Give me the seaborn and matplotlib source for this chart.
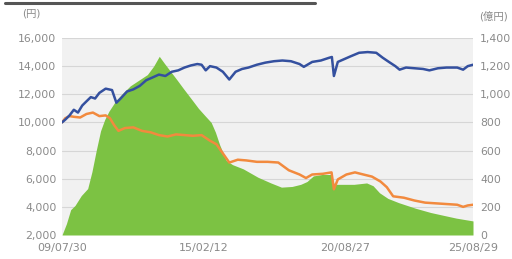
import matplotlib
matplotlib.use("Agg")
import matplotlib.pyplot as plt
import matplotlib.dates as mdates
from matplotlib.lines import Line2D
from matplotlib.ticker import FuncFormatter
import seaborn as sns
import pandas as pd

# ---- data ----
blue_dates = ["2009-07-30","2009-09-15","2009-11-15","2010-01-15","2010-03-15","2010-05-15","2010-07-15",
              "2010-09-15","2010-11-15","2011-01-15","2011-04-15","2011-07-15","2011-09-15","2011-11-15",
              "2012-02-15","2012-05-15","2012-08-15","2012-11-15","2013-02-15","2013-05-15","2013-08-15",
              "2013-11-15","2014-02-15","2014-05-15","2014-08-15","2014-11-15","2015-01-15","2015-03-15",
              "2015-05-15","2015-08-15","2015-11-15","2016-02-15","2016-05-15","2016-08-15","2016-11-15",
              "2017-03-15","2017-07-15","2017-11-15","2018-03-15","2018-07-15","2018-11-15","2019-01-15",
              "2019-05-15","2019-09-15","2020-01-15","2020-02-20","2020-03-20","2020-05-15","2020-08-15",
              "2020-11-15","2021-03-15","2021-07-15","2021-11-15","2022-02-15","2022-05-15","2022-08-15",
              "2022-10-15","2023-01-15","2023-05-15","2023-09-15","2023-12-15","2024-04-15","2024-08-15",
              "2025-01-15","2025-04-10","2025-06-15","2025-08-29"]
blue_values = [10000,10200,10500,10900,10700,11200,11500,
               11800,11700,12100,12400,12300,11400,11700,
               12200,12350,12600,13000,13200,13400,13300,
               13600,13700,13900,14050,14150,14100,13700,
               14000,13900,13600,13050,13600,13800,13900,
               14100,14250,14350,14400,14350,14150,13950,
               14300,14400,14600,14650,13300,14300,14500,
               14700,14950,15000,14950,14600,14300,14000,
               13750,13900,13850,13800,13700,13850,13900,
               13900,13750,14000,14100]

orange_dates = ["2009-07-30","2009-09-15","2009-11-15","2010-01-15","2010-04-15","2010-07-15","2010-10-15",
                "2011-01-15","2011-04-15","2011-06-15","2011-08-15","2011-10-15","2012-01-15","2012-05-15",
                "2012-09-15","2013-01-15","2013-05-15","2013-09-15","2014-01-15","2014-05-15","2014-09-15",
                "2015-01-15","2015-05-15","2015-08-15","2015-11-15","2016-02-15","2016-06-15","2016-10-15",
                "2017-03-15","2017-08-15","2018-01-15","2018-06-15","2018-11-15","2019-02-15","2019-05-15",
                "2019-10-15","2020-02-15","2020-03-20","2020-05-15","2020-09-15","2021-01-15","2021-05-15",
                "2021-09-15","2022-01-15","2022-04-15","2022-07-15","2022-12-15","2023-05-15","2023-10-15",
                "2024-03-15","2024-08-15","2025-01-15","2025-04-10","2025-06-15","2025-08-29"]
orange_values = [10000,10300,10450,10400,10350,10600,10700,
                 10450,10500,10300,9800,9400,9600,9650,
                 9400,9300,9100,9000,9150,9100,9050,
                 9100,8700,8450,7800,7150,7350,7300,
                 7200,7200,7150,6600,6300,6050,6300,
                 6350,6450,5250,5950,6300,6450,6300,
                 6150,5800,5400,4750,4650,4450,4300,
                 4250,4200,4150,4000,4100,4150]

green_dates = ["2009-07-30","2009-10-01","2009-12-01","2010-02-01","2010-05-01","2010-08-01","2010-10-01",
               "2010-12-01","2011-02-01","2011-04-01","2011-06-01","2011-09-01","2011-12-01","2012-04-01",
               "2012-08-01","2012-12-01","2013-03-01","2013-05-20","2013-08-01","2013-11-01","2014-02-01",
               "2014-05-01","2014-09-01","2014-12-01","2015-03-01","2015-06-01","2015-08-01","2015-10-01",
               "2016-01-01","2016-04-01","2016-09-01","2017-04-01","2017-10-01","2018-03-01","2018-08-01",
               "2018-12-01","2019-03-01","2019-06-01","2019-10-01","2020-02-01","2020-03-25","2020-07-01",
               "2021-01-01","2021-07-01","2021-10-01","2022-01-01","2022-05-01","2022-10-01","2023-06-01",
               "2024-01-01","2024-07-01","2025-01-01","2025-08-29"]
green_values = [0,80,180,210,280,330,450,
                600,740,820,880,950,1000,1060,
                1100,1140,1200,1270,1220,1160,1100,
                1040,960,900,850,800,730,640,
                530,500,470,410,370,340,345,
                360,380,420,430,430,360,360,
                360,370,350,300,260,230,190,
                160,140,120,100]

left_ticks = [2000, 4000, 6000, 8000, 10000, 12000, 14000, 16000]
right_ticks = [0, 200, 400, 600, 800, 1000, 1200, 1400]
x_tick_dates = ["2009-07-30", "2015-02-12", "2020-08-27", "2025-08-29"]

blue_df = pd.DataFrame({"date": pd.to_datetime(blue_dates), "value": blue_values})
orange_df = pd.DataFrame({"date": pd.to_datetime(orange_dates), "value": orange_values})
green_df = pd.DataFrame({"date": pd.to_datetime(green_dates), "value": green_values})

sns.set_style("white")
plt.rcParams["font.family"] = ["DejaVu Sans", "Noto Sans CJK JP"]

BLUE = "#34509f"
ORANGE = "#f28a3e"
GREEN = "#7cc243"
TICK = "#8a8a8a"

fig = plt.figure(figsize=(5.12, 2.59), dpi=100)
ax2 = fig.add_axes([62/512, 24/259, (473-62)/512, (235-38)/259])
ax = ax2.twinx()

# right-axis layer: net assets area + background + grid
ax2.set_facecolor("#f1f1f1")
ax2.fill_between(green_df["date"], 0, green_df["value"], color=GREEN, linewidth=0, zorder=2)
ax2.set_ylim(0, 1400)
ax2.set_yticks(right_ticks)
ax2.grid(axis="y", color="#d6d6d6", linewidth=0.8, zorder=0)
ax2.set_axisbelow(True)

# left-axis layer: lines on top
ax.set_zorder(ax2.get_zorder() + 1)
ax.patch.set_visible(False)
sns.lineplot(data=orange_df, x="date", y="value", ax=ax, color=ORANGE, linewidth=1.8)
sns.lineplot(data=blue_df, x="date", y="value", ax=ax, color=BLUE, linewidth=1.8)
ax.set_ylim(2000, 16000)
ax.set_yticks(left_ticks)
ax.yaxis.set_major_formatter(FuncFormatter(lambda v, p: f"{int(v):,}"))
ax2.yaxis.set_major_formatter(FuncFormatter(lambda v, p: f"{int(v):,}"))

xt = pd.to_datetime(x_tick_dates)
ax2.set_xlim(xt[0], xt[-1])
ax2.set_xticks(xt)
ax2.xaxis.set_major_formatter(mdates.DateFormatter("%y/%m/%d"))

ax.yaxis.set_ticks_position("left")
ax.yaxis.set_label_position("left")
ax2.yaxis.set_ticks_position("right")

for a in (ax, ax2):
    for s in a.spines.values():
        s.set_visible(False)
    a.set_xlabel("")
    a.set_ylabel("")
ax.tick_params(axis="y", length=0, pad=4, labelsize=7.8, colors=TICK, left=True, labelleft=True, right=False, labelright=False)
ax2.tick_params(axis="y", length=0, pad=5, labelsize=7.8, colors=TICK, right=True, labelright=True, left=False, labelleft=False)
ax2.tick_params(axis="x", length=0, pad=6, labelsize=8, colors=TICK, bottom=True, labelbottom=True)
ax.tick_params(axis="x", bottom=False, labelbottom=False, top=False, labeltop=False)

fig.text(31/512, 1 - 14/259, "(円)", ha="center", va="center", fontsize=7.5, color=TICK)
fig.text(493/512, 1 - 16/259, "(億円)", ha="center", va="center", fontsize=7.5, color=TICK)
fig.add_artist(Line2D([5/512, 315/512], [1 - 3/259, 1 - 3/259], color="#555555", linewidth=2.2, transform=fig.transFigure))

fig.savefig("out.png", dpi=100)
